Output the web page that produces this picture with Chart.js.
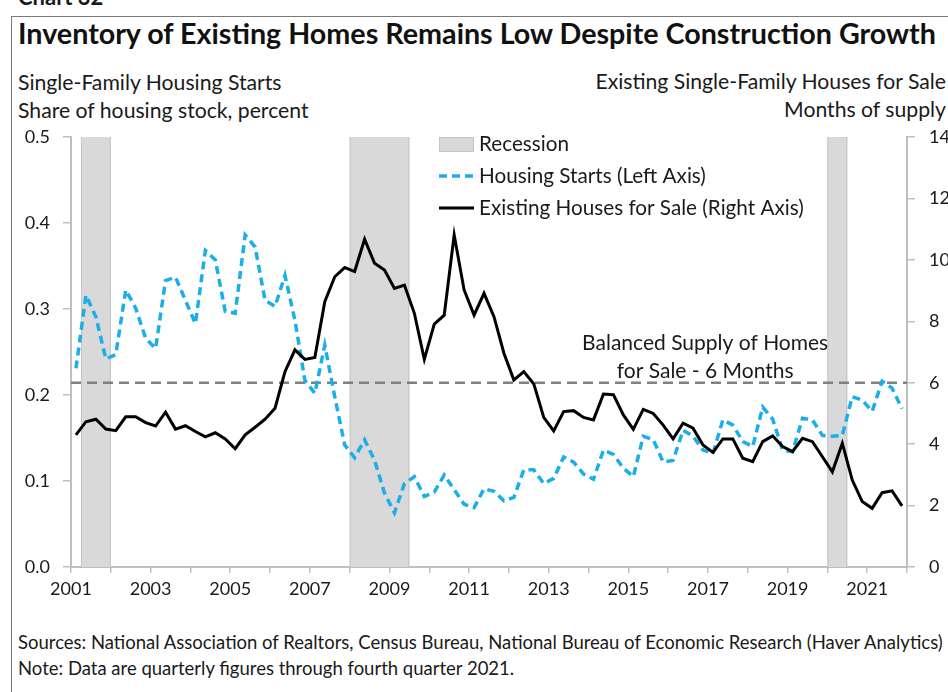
<!DOCTYPE html>
<html>
<head>
<meta charset="utf-8">
<script src="https://cdn.jsdelivr.net/npm/chart.js@4.4.1/dist/chart.umd.min.js"></script>
<style>
  html, body { margin: 0; padding: 0; background: #fff; }
  body { width: 948px; height: 692px; position: relative; overflow: hidden; font-family: Lato, "Noto Sans", sans-serif; color: #1a1a1a; }
  .frame { position: absolute; left: 11px; top: 16px; right: -4px; bottom: -4px; border-left: 1.5px solid #7a7a7a; border-top: 1.5px solid #7a7a7a; }
  .txt { position: absolute; white-space: nowrap; }
  #chartno { left: 18px; top: -17px; font-size: 22px; font-weight: 700; }
  #title { left: 18px; top: 16px; font-size: 28.7px; font-weight: 700; color: #111; }
  .sub { font-size: 21.2px; line-height: 28px; }
  #subL { left: 18px; top: 68px; }
  #subR { right: 2px; top: 67px; text-align: right; }
  #notes { left: 18px; top: 629px; font-size: 18.5px; line-height: 26px; }
  #wrap { position: absolute; left: 0; top: 0; width: 948px; height: 600px; }
</style>
</head>
<body>
<div class="frame"></div>
<div class="txt" id="chartno">Chart 32</div>
<div class="txt" id="title">Inventory of Existing Homes Remains Low Despite Construction Growth</div>
<div class="txt sub" id="subL">Single-Family Housing Starts<br>Share of housing stock, percent</div>
<div class="txt sub" id="subR">Existing Single-Family Houses for Sale<br>Months of supply</div>
<div class="txt" id="notes">Sources: National Association of Realtors, Census Bureau, National Bureau of Economic Research (Haver Analytics)<br>Note: Data are quarterly figures through fourth quarter 2021.</div>
<div id="wrap"><canvas id="chart" width="948" height="600"></canvas></div>

<script>
// quarterly observations, 2001 Q1 .. 2021 Q4
const years = [];
for (let y = 2001; y <= 2021; y++) years.push(y);
const quarters = [];
years.forEach(y => { for (let q = 1; q <= 4; q++) quarters.push(y + ' Q' + q); });

// single-family starts, share of housing stock (%)
const housingStarts = [
  0.231, 0.316, 0.291, 0.242, 0.247, 0.322, 0.301, 0.266,
  0.254, 0.333, 0.337, 0.310, 0.283, 0.368, 0.357, 0.297,
  0.295, 0.386, 0.372, 0.310, 0.303, 0.339, 0.287, 0.217,
  0.202, 0.258, 0.198, 0.142, 0.127, 0.148, 0.124, 0.086,
  0.063, 0.097, 0.105, 0.082, 0.087, 0.107, 0.090, 0.073,
  0.069, 0.091, 0.088, 0.077, 0.081, 0.113, 0.113, 0.097,
  0.103, 0.128, 0.122, 0.108, 0.102, 0.136, 0.131, 0.115,
  0.105, 0.152, 0.148, 0.122, 0.124, 0.159, 0.152, 0.136,
  0.132, 0.171, 0.165, 0.146, 0.140, 0.186, 0.172, 0.136,
  0.134, 0.173, 0.171, 0.153, 0.152, 0.153, 0.198, 0.194,
  0.181, 0.216, 0.208, 0.184
];

// existing single-family houses for sale, months of supply
const monthsSupply = [
  4.30, 4.73, 4.81, 4.49, 4.44, 4.89, 4.89, 4.70,
  4.59, 5.04, 4.49, 4.60, 4.41, 4.24, 4.37, 4.17,
  3.85, 4.30, 4.55, 4.81, 5.17, 6.36, 7.07, 6.76,
  6.82, 8.64, 9.45, 9.75, 9.62, 10.67, 9.89, 9.67,
  9.07, 9.18, 8.26, 6.76, 7.91, 8.20, 10.81, 9.02,
  8.20, 8.91, 8.15, 6.96, 6.09, 6.36, 5.96, 4.87,
  4.43, 5.06, 5.09, 4.87, 4.79, 5.63, 5.61, 4.95,
  4.48, 5.13, 5.00, 4.62, 4.17, 4.68, 4.52, 3.97,
  3.73, 4.17, 4.17, 3.54, 3.43, 4.08, 4.27, 3.92,
  3.76, 4.19, 4.08, 3.59, 3.10, 4.03, 2.83, 2.13,
  1.91, 2.42, 2.48, 1.99
];

const balancedSupply = 6;
const balanceNote = ['Balanced Supply of Homes', 'for Sale - 6 Months'];

// NBER recessions (fractional years)
const recessionStart = [2001.25, 2008.0, 2020.0];
const recessionEnd = [2002.0, 2009.5, 2020.5];

const yearTicks = ['2001', '2003', '2005', '2007', '2009', '2011', '2013', '2015', '2017', '2019', '2021'];
const xMin = 2001, xMax = 2022;

const FONT = 'Lato, "Noto Sans", sans-serif';
const BLUE = '#1aafe8';
const SHADE = '#d9d9d9';
const AXIS = '#bfbfbf';

// quarter label -> position in the middle of the quarter
function quarterPos(label) {
  const [y, q] = label.split(' Q');
  return Number(y) + (Number(q) - 0.5) / 4;
}

const startsPoints = quarters.map((q, i) => ({ x: quarterPos(q), y: housingStarts[i] }));
const supplyPoints = quarters.map((q, i) => ({ x: quarterPos(q), y: monthsSupply[i] }));

// grey recession bars behind the lines
const recessionBars = {
  id: 'recessionBars',
  beforeDatasetsDraw(chart) {
    const { ctx, chartArea, scales } = chart;
    ctx.save();
    recessionStart.forEach((s, i) => {
      const x0 = scales.x.getPixelForValue(s);
      const x1 = scales.x.getPixelForValue(recessionEnd[i]);
      ctx.fillStyle = SHADE;
      ctx.fillRect(x0, chartArea.top, x1 - x0, chartArea.bottom - chartArea.top);
      ctx.strokeStyle = '#c4c4c4';
      ctx.lineWidth = 1;
      ctx.beginPath();
      ctx.moveTo(x0 + 0.5, chartArea.top); ctx.lineTo(x0 + 0.5, chartArea.bottom);
      ctx.moveTo(x1 - 0.5, chartArea.top); ctx.lineTo(x1 - 0.5, chartArea.bottom);
      ctx.stroke();
    });
    ctx.restore();
  }
};

// legend block and the 6-month note
const legendAndNote = {
  id: 'legendAndNote',
  afterDatasetsDraw(chart) {
    const { ctx, chartArea, scales } = chart;
    const lx = chartArea.left + 368;
    const rows = [chartArea.top + 7, chartArea.top + 39, chartArea.top + 71];
    ctx.save();
    ctx.font = '20.7px ' + FONT;
    ctx.fillStyle = '#1a1a1a';
    ctx.textBaseline = 'middle';
    ctx.textAlign = 'left';

    ctx.fillStyle = SHADE;
    ctx.fillRect(lx, rows[0] - 7, 35, 15);
    ctx.strokeStyle = '#c4c4c4';
    ctx.lineWidth = 1;
    ctx.strokeRect(lx + 0.5, rows[0] - 6.5, 34, 14);
    ctx.fillStyle = '#1a1a1a';
    ctx.fillText('Recession', lx + 40, rows[0]);

    const ds = chart.data.datasets;
    [ds[0], ds[1]].forEach((d, k) => {
      const y = rows[k + 1];
      ctx.strokeStyle = d.borderColor;
      ctx.lineWidth = d.borderWidth;
      ctx.setLineDash(d.borderDash || []);
      ctx.beginPath();
      ctx.moveTo(lx, y); ctx.lineTo(lx + 35, y);
      ctx.stroke();
      ctx.setLineDash([]);
      ctx.fillText(d.label, lx + 40, y);
    });

    const yLine = scales.yR.getPixelForValue(balancedSupply);
    const cx = scales.x.getPixelForValue(2016.93);
    ctx.textAlign = 'center';
    ctx.font = '21px ' + FONT;
    ctx.fillText(balanceNote[0], cx, yLine - 39);
    ctx.fillText(balanceNote[1], cx, yLine - 11);
    ctx.restore();
  }
};

const tickFont = { family: FONT, size: 18 };

new Chart(document.getElementById('chart'), {
  type: 'line',
  data: {
    datasets: [
      {
        label: 'Housing Starts (Left Axis)',
        data: startsPoints,
        yAxisID: 'yL',
        borderColor: BLUE,
        borderWidth: 3.5,
        borderDash: [8, 5],
        pointRadius: 0,
        tension: 0,
        order: 2
      },
      {
        label: 'Existing Houses for Sale (Right Axis)',
        data: supplyPoints,
        yAxisID: 'yR',
        borderColor: '#000',
        borderWidth: 3,
        pointRadius: 0,
        tension: 0,
        order: 1
      },
      {
        label: 'Balanced supply',
        data: [{ x: xMin, y: balancedSupply }, { x: xMax, y: balancedSupply }],
        yAxisID: 'yR',
        borderColor: '#808080',
        borderWidth: 2.5,
        borderDash: [10, 6],
        pointRadius: 0,
        order: 3
      }
    ]
  },
  options: {
    responsive: false,
    animation: false,
    events: [],
    layout: { padding: { top: 137, left: 0, right: 0, bottom: 0 } },
    plugins: { legend: { display: false }, tooltip: { enabled: false } },
    scales: {
      x: {
        type: 'linear',
        min: xMin,
        max: xMax,
        afterFit(s) { s.height = 33; },
        ticks: {
          stepSize: 1,
          autoSkip: false,
          maxRotation: 0,
          padding: 5,
          color: '#1a1a1a',
          font: tickFont,
          callback: v => yearTicks.includes(String(v)) ? String(v) : ''
        },
        grid: { drawOnChartArea: false, tickLength: 6, color: AXIS, lineWidth: 1.5 },
        border: { color: AXIS, width: 2 }
      },
      yL: {
        position: 'left',
        min: 0,
        max: 0.5,
        afterFit(s) { s.width = 71; },
        ticks: { stepSize: 0.1, padding: 13, color: '#1a1a1a', font: tickFont, callback: v => v.toFixed(1) },
        grid: { drawOnChartArea: false, tickLength: 8, color: AXIS, lineWidth: 1.5 },
        border: { color: AXIS, width: 2 }
      },
      yR: {
        position: 'right',
        min: 0,
        max: 14,
        afterFit(s) { s.width = 41; },
        ticks: { stepSize: 2, padding: 14, color: '#1a1a1a', font: tickFont },
        grid: { drawOnChartArea: false, tickLength: 8, color: AXIS, lineWidth: 1.5 },
        border: { color: AXIS, width: 2 }
      }
    }
  },
  plugins: [recessionBars, legendAndNote]
});
</script>
</body>
</html>
